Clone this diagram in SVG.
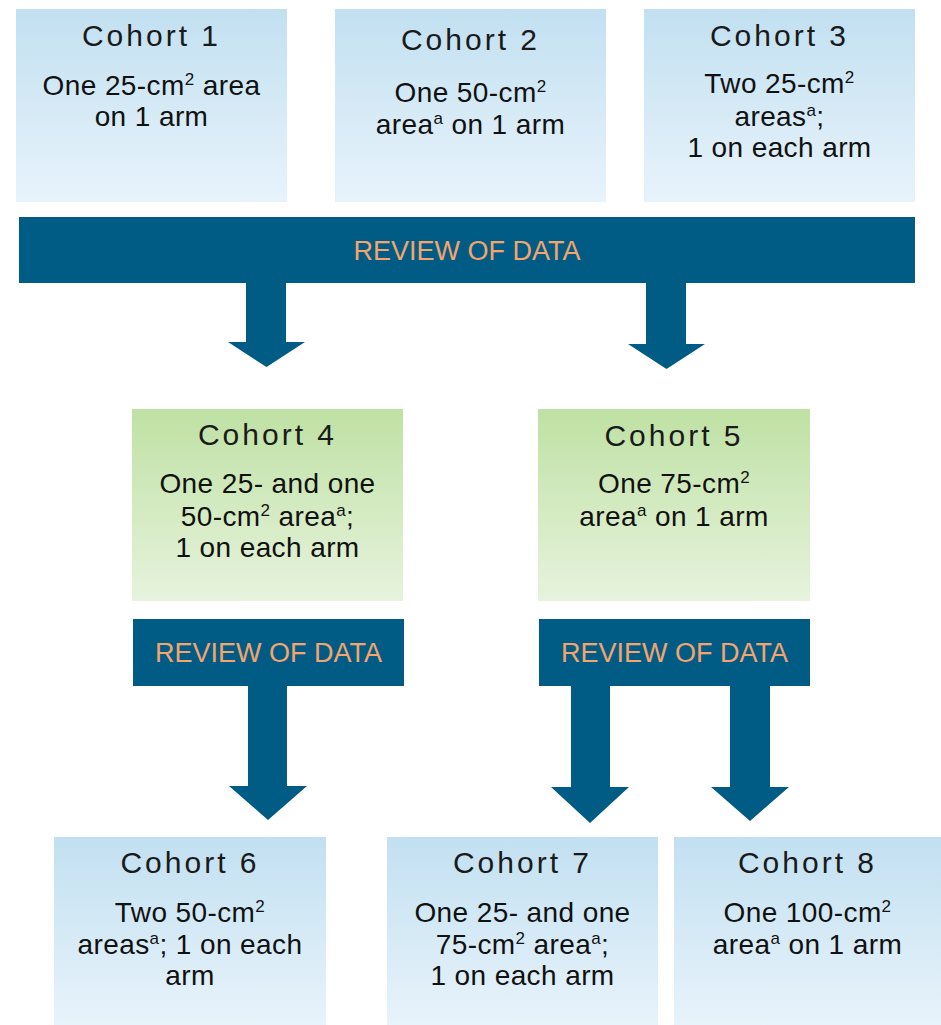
<svg xmlns="http://www.w3.org/2000/svg" width="941" height="1025" viewBox="0 0 941 1025">
<defs>
<linearGradient id="gBlue" x1="0" y1="0" x2="0" y2="1">
<stop offset="0" stop-color="#C2E0F1"/>
<stop offset="1" stop-color="#E8F3FB"/>
</linearGradient>
<linearGradient id="gGreen" x1="0" y1="0" x2="0" y2="1">
<stop offset="0" stop-color="#BFE1A4"/>
<stop offset="1" stop-color="#E7F3DD"/>
</linearGradient>
<style>
.blue{fill:url(#gBlue)}
.green{fill:url(#gGreen)}
.bar{fill:#015C85}
.arrow{fill:#015C85}
text{font-family:"Liberation Sans",Arial,sans-serif;text-anchor:middle;fill:#111}
.title{font-size:30px;letter-spacing:3px;fill:#1a1a1a}
.body{font-size:28px;letter-spacing:0.4px}
.sup{font-size:17px}
.rev{font-size:27px;fill:#F4A46C}
</style>
</defs>
<rect width="941" height="1025" fill="#FFFFFF"/>

<g id="connectors">
<polygon class="arrow" points="246,283 286,283 286,342 305,342 266.5,367 228,342 246,342"/>
<polygon class="arrow" points="646,283 686,283 686,344 705,344 666.5,369 628,344 646,344"/>
<polygon class="arrow" points="248,686 287,686 287,786 307,786 268,820 229,786 248,786"/>
<polygon class="arrow" points="571,686 610,686 610,787 629,787 590,823 551,787 571,787"/>
<polygon class="arrow" points="730,686 770,686 770,787 789,787 750,821 711,787 730,787"/>
</g>

<g id="cohort1">
<rect class="blue" x="16" y="9" width="271" height="193"/>
<text class="title" x="151.5" y="46">Cohort 1</text>
<text class="body" x="151.5" y="95">One 25-cm<tspan class="sup" dy="-10">2</tspan><tspan dy="10"> area</tspan></text>
<text class="body" x="151.5" y="126">on 1 arm</text>
</g>

<g id="cohort2">
<rect class="blue" x="335" y="9" width="271" height="193"/>
<text class="title" x="470.5" y="50">Cohort 2</text>
<text class="body" x="470.5" y="102">One 50-cm<tspan class="sup" dy="-10">2</tspan></text>
<text class="body" x="470.5" y="134">area<tspan class="sup" dy="-10">a</tspan><tspan dy="10"> on 1 arm</tspan></text>
</g>

<g id="cohort3">
<rect class="blue" x="644" y="9" width="271" height="193"/>
<text class="title" x="779.5" y="46">Cohort 3</text>
<text class="body" x="779.5" y="93">Two 25-cm<tspan class="sup" dy="-10">2</tspan></text>
<text class="body" x="779.5" y="126">areas<tspan class="sup" dy="-10">a</tspan><tspan dy="10">;</tspan></text>
<text class="body" x="779.5" y="157">1 on each arm</text>
</g>

<g id="review1">
<rect class="bar" x="19" y="217" width="896" height="66"/>
<text class="rev" x="467" y="259.5">REVIEW OF DATA</text>
</g>

<g id="cohort4">
<rect class="green" x="132" y="409" width="271" height="192"/>
<text class="title" x="267.5" y="445">Cohort 4</text>
<text class="body" x="267.5" y="493">One 25- and one</text>
<text class="body" x="267.5" y="526">50-cm<tspan class="sup" dy="-10">2</tspan><tspan dy="10"> area</tspan><tspan class="sup" dy="-10">a</tspan><tspan dy="10">;</tspan></text>
<text class="body" x="267.5" y="557">1 on each arm</text>
</g>

<g id="cohort5">
<rect class="green" x="538" y="409" width="272" height="192"/>
<text class="title" x="674" y="446">Cohort 5</text>
<text class="body" x="674" y="493">One 75-cm<tspan class="sup" dy="-10">2</tspan></text>
<text class="body" x="674" y="526">area<tspan class="sup" dy="-10">a</tspan><tspan dy="10"> on 1 arm</tspan></text>
</g>

<g id="review2">
<rect class="bar" x="133" y="619" width="271" height="67"/>
<text class="rev" x="268.5" y="662">REVIEW OF DATA</text>
</g>

<g id="review3">
<rect class="bar" x="539" y="619" width="271" height="67"/>
<text class="rev" x="674.5" y="662">REVIEW OF DATA</text>
</g>

<g id="cohort6">
<rect class="blue" x="54" y="837" width="272" height="188"/>
<text class="title" x="190" y="873">Cohort 6</text>
<text class="body" x="190" y="922">Two 50-cm<tspan class="sup" dy="-10">2</tspan></text>
<text class="body" x="190" y="954">areas<tspan class="sup" dy="-10">a</tspan><tspan dy="10">; 1 on each</tspan></text>
<text class="body" x="190" y="985">arm</text>
</g>

<g id="cohort7">
<rect class="blue" x="387" y="837" width="271" height="188"/>
<text class="title" x="522.5" y="873">Cohort 7</text>
<text class="body" x="522.5" y="922">One 25- and one</text>
<text class="body" x="522.5" y="954">75-cm<tspan class="sup" dy="-10">2</tspan><tspan dy="10"> area</tspan><tspan class="sup" dy="-10">a</tspan><tspan dy="10">;</tspan></text>
<text class="body" x="522.5" y="985">1 on each arm</text>
</g>

<g id="cohort8">
<rect class="blue" x="674" y="837" width="267" height="188"/>
<text class="title" x="807.5" y="873">Cohort 8</text>
<text class="body" x="807.5" y="922">One 100-cm<tspan class="sup" dy="-10">2</tspan></text>
<text class="body" x="807.5" y="954">area<tspan class="sup" dy="-10">a</tspan><tspan dy="10"> on 1 arm</tspan></text>
</g>
</svg>
